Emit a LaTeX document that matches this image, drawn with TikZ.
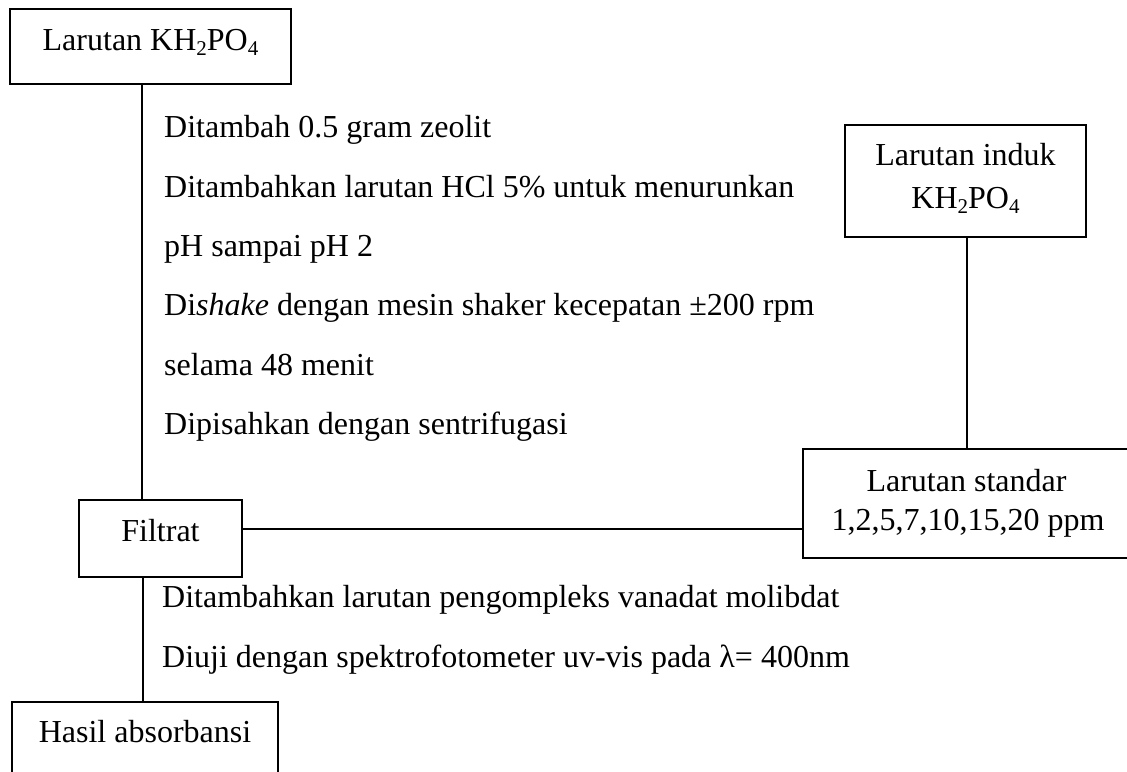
\documentclass[tikz,border=0pt]{standalone}
\usepackage{fontspec}
\setmainfont{Liberation Serif}
\newcommand{\subnum}[1]{\raisebox{-0.16em}{\fontsize{21}{21}\selectfont #1}}
\begin{document}
\begin{tikzpicture}[x=1pt,y=-1pt,
  box/.style={draw, line width=1.3pt, inner sep=0pt},
  tbox/.style={draw, line width=2pt, inner sep=0pt},
  lbl/.style={anchor=base, inner sep=0pt, font=\fontsize{32}{36}\selectfont},
  step txt/.style={anchor=base west, inner sep=0pt, font=\fontsize{32}{36}\selectfont},
  conn/.style={line width=1.3pt}]
\clip (0,0) rectangle (1127,771);
\fill[white] (0,0) rectangle (1127,771);
% boxes
\node[box, minimum width=281pt, minimum height=75pt] (b1) at (150.5,46.5) {};
\node[lbl] (t1) at (150.5,50) {Larutan KH\subnum{2}PO\subnum{4}};
\node[tbox, minimum width=241pt, minimum height=112pt] (b2) at (965.5,181) {};
\node[lbl] (t2a) at (965.5,165) {Larutan induk};
\node[lbl] (t2b) at (965.5,208) {KH\subnum{2}PO\subnum{4}};
\node[tbox, minimum width=340pt, minimum height=109pt] (b3) at (973,503.5) {};
\node[lbl] (t3a) at (966.5,491) {Larutan standar};
\node[lbl] (t3b) at (968,530) {1,2,5,7,10,15,20 ppm};
\node[box, minimum width=163pt, minimum height=77pt] (b4) at (160.5,538.5) {};
\node[lbl] (t4) at (160.5,541) {Filtrat};
\node[box, minimum width=266pt, minimum height=100pt] (b5) at (145,752) {};
\node[lbl] (t5) at (145,742) {Hasil absorbansi};
% step texts
\node[step txt] (s1) at (164,137) {Ditambah 0.5 gram zeolit};
\node[step txt] (s2) at (164,197) {Ditambahkan larutan HCl 5\% untuk menurunkan};
\node[step txt] (s3) at (164,256) {pH sampai pH 2};
\node[step txt] (s4) at (164,315) {Di\textit{shake} dengan mesin shaker kecepatan \char"00B1 200 rpm};
\node[step txt] (s5) at (164,375) {selama 48 menit};
\node[step txt] (s6) at (164,434) {Dipisahkan dengan sentrifugasi};
\node[step txt] (s7) at (162,607) {Ditambahkan larutan pengompleks vanadat molibdat};
\node[step txt] (s8) at (162,667) {Diuji dengan spektrofotometer uv-vis pada \char"03BB= 400nm};
% connectors
\coordinate (c1) at (142,0);
\coordinate (c2) at (967,0);
\coordinate (c3) at (0,529);
\coordinate (c4) at (143,0);
\draw[conn] (b1.south -| c1) -- (b4.north -| c1);
\draw[tbox] (b2.south -| c2) -- (b3.north -| c2);
\draw[conn] (b4.east |- c3) -- (b3.west |- c3);
\draw[conn] (b4.south -| c4) -- (b5.north -| c4);
\end{tikzpicture}
\end{document}
